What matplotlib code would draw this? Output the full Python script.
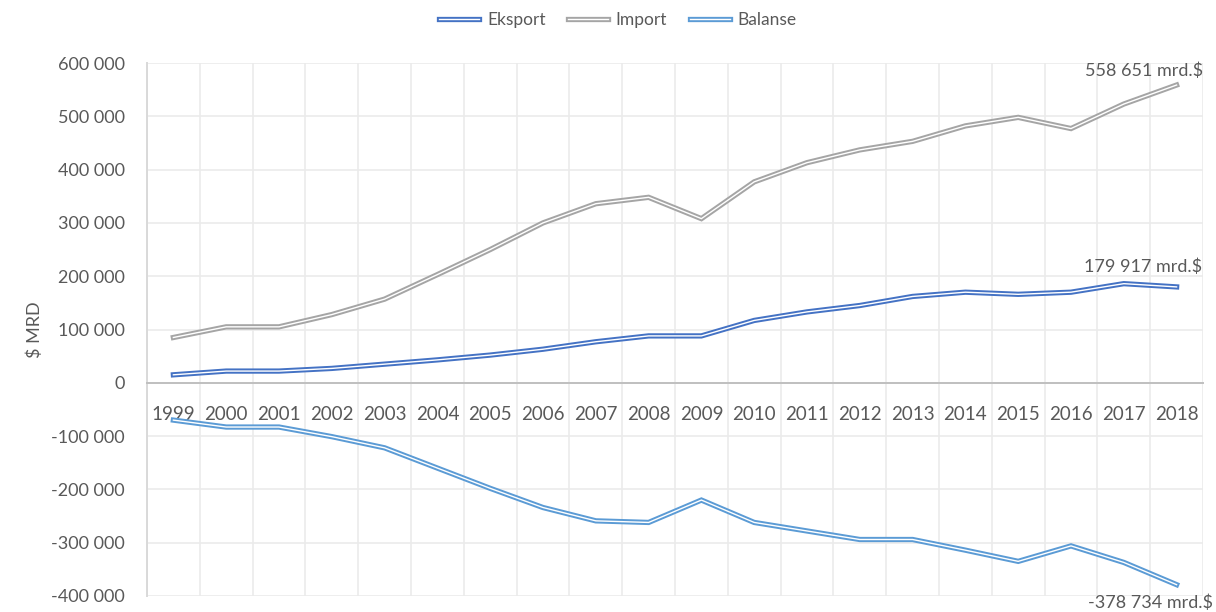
import matplotlib
matplotlib.use("Agg")
import matplotlib.pyplot as plt
import matplotlib.patheffects as pe
from matplotlib.ticker import FuncFormatter, MultipleLocator

years = [str(y) for y in range(1999, 2019)]
eksport = [15000, 22000, 22000, 27000, 35000, 43000, 52000, 63000, 77000, 88000,
           88000, 117000, 133000, 145000, 162000, 170000, 166000, 170000, 186000, 179917]
importv = [85000, 105000, 105000, 128000, 157000, 203000, 250000, 300000, 336000, 348000,
           308000, 377000, 413000, 437000, 453000, 482000, 498000, 477000, 523000, 558651]
balanse = [-70000, -83000, -83000, -101000, -122000, -160000, -198000, -234000, -259000, -262000,
           -220000, -262000, -278000, -294000, -294000, -314000, -335000, -306000, -337000, -378734]

series_names = ["Eksport", "Import", "Balanse"]
colors = ["#4472C4", "#A5A5A5", "#5B9BD5"]
end_labels = ["179 917 mrd.$", "558 651 mrd.$", "-378 734 mrd.$"]
label_offsets = [(26, 20), (27, 14), (36, -18)]

TXT = "#595959"
plt.rcParams["font.family"] = ["Lato", "DejaVu Sans"]
plt.rcParams["font.size"] = 13

fig = plt.figure(figsize=(12.16, 6.12), dpi=100)
ax = fig.add_axes([147 / 1216, 1 - 596 / 612, (1203 - 147) / 1216, (596 - 63) / 612])

x = list(range(len(years)))
for name, vals, c, lab, off in zip(series_names, [eksport, importv, balanse], colors, end_labels, label_offsets):
    ax.plot(x, vals, color="white", lw=1.0, label=name, solid_joinstyle="miter",
            path_effects=[pe.Stroke(linewidth=3.8, foreground=c), pe.Normal()], zorder=3)
    ax.annotate(lab, xy=(x[-1], vals[-1]), xytext=off, textcoords="offset pixels",
                ha="right", va="center", color=TXT, fontsize=13, annotation_clip=False)

ax.set_xlim(-0.5, len(years) - 0.5)
ax.set_ylim(-400000, 600000)
ax.yaxis.set_major_locator(MultipleLocator(100000))
ax.yaxis.set_major_formatter(FuncFormatter(lambda v, p: f"{int(v):,}".replace(",", " ")))

# vertical gridlines at category boundaries
for b in range(len(years) + 1):
    ax.axvline(b - 0.5, color="#EBEBEB", lw=1.2, zorder=0)
ax.yaxis.grid(True, color="#EBEBEB", lw=1.2, zorder=0)
ax.set_axisbelow(True)

ax.set_xticks(x)
ax.set_xticklabels(years)
ax.spines["bottom"].set_position(("data", 0))
ax.spines["bottom"].set_color("#BFBFBF")
ax.spines["bottom"].set_linewidth(1.4)
ax.spines["left"].set_color("#D9D9D9")
ax.spines["left"].set_linewidth(1.4)
ax.spines["top"].set_visible(False)
ax.spines["right"].set_visible(False)
ax.tick_params(axis="x", length=0, pad=17, colors=TXT, labelsize=13.5)
ax.tick_params(axis="y", length=0, pad=16, colors=TXT, labelsize=13)

fig.text(35 / 1216, 1 - 330 / 612, "$ MRD", rotation=90, ha="center", va="center", color=TXT, fontsize=13)

leg = fig.legend(loc="center", bbox_to_anchor=(618 / 1216, 1 - 20 / 612), ncol=3, frameon=False,
                 handlelength=2.3, columnspacing=1.3, handletextpad=0.45, fontsize=12.5)
for t in leg.get_texts():
    t.set_color(TXT)

fig.savefig("out.png", dpi=100)
